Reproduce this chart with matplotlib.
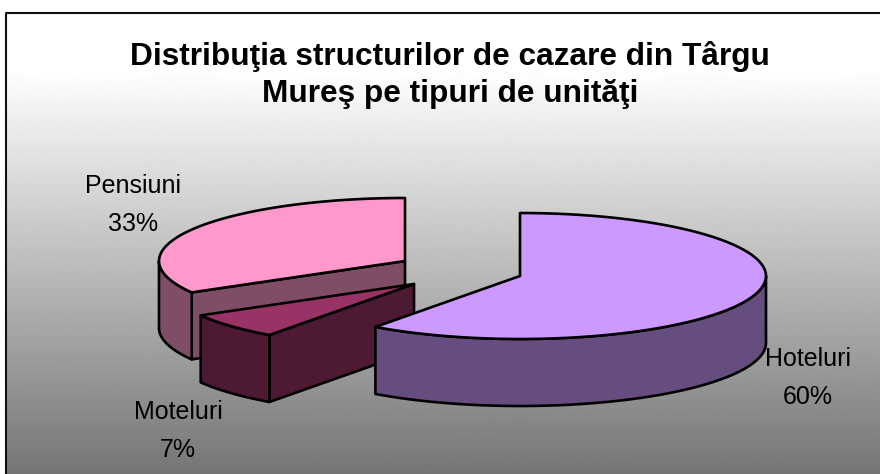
import matplotlib
matplotlib.use('Agg')
import matplotlib.pyplot as plt
from matplotlib.patches import Polygon
import numpy as np

plt.rcParams['font.family'] = ['Liberation Sans', 'DejaVu Sans']

title = 'Distribuţia structurilor de cazare din Târgu\nMureş pe tipuri de unităţi'
categories = ['Hoteluri', 'Moteluri', 'Pensiuni']
shares = [60, 6.7, 33.3]
top_colors = ['#cc99ff', '#993366', '#ff99cc']
side_colors = ['#664d80', '#4d1933', '#804d66']

# pie geometry, in pixels
centers = {'Hoteluri': (520, 276), 'Moteluri': (414, 284), 'Pensiuni': (405, 261)}
label_pos = {'Hoteluri': (808, 378), 'Moteluri': (178, 431), 'Pensiuni': (133, 205)}
RX, RY = 246, 63
DEPTH = 67
LW = 1.9


def rim(cx, cy, a0, a1, n=80):
    # angles clockwise from 12 o'clock, in degrees
    t = np.radians(np.linspace(a0, a1, n))
    return np.column_stack([cx + RX * np.sin(t), cy - RY * np.cos(t)])


def draw_slice(ax, name, a0, a1, top, side):
    cx, cy = centers[name]
    down = np.array([0, DEPTH])
    apex = np.array([cx, cy])

    # cut face that looks at the viewer (the one on the left of the front)
    for a in (a0, a1):
        s = np.sin(np.radians(a))
        c = np.cos(np.radians(a))
        edge = np.array([cx + RX * s, cy - RY * c])
        faces_front = (a == a0 and a0 > 180) or (a == a1 and a1 < 180)
        if faces_front:
            ax.add_patch(Polygon([apex, edge, edge + down, apex + down],
                                 fc=side, ec='black', lw=LW, joinstyle='round'))

    # outer wall, only the part on the front half
    w0, w1 = max(a0, 90), min(a1, 270)
    if w1 > w0:
        wall = rim(cx, cy, w0, w1)
        ax.add_patch(Polygon(np.vstack([wall, (wall + down)[::-1]]),
                             fc=side, ec='black', lw=LW, joinstyle='round'))

    pts = np.vstack([[apex], rim(cx, cy, a0, a1)])
    ax.add_patch(Polygon(pts, fc=top, ec='black', lw=LW, joinstyle='round'))


fig = plt.figure(figsize=(8.8, 4.74), dpi=100)
ax = fig.add_axes([0, 0, 1, 1])
ax.set_xlim(0, 880)
ax.set_ylim(474, 0)
ax.axis('off')

# background: white at the top, going to grey
ys = np.arange(13, 475)
grey = np.interp(ys, [13, 70, 474], [255, 255, 117]) / 255
ax.imshow(grey[:, None], cmap='gray', vmin=0, vmax=1, aspect='auto',
          extent=(6, 880, 474, 13), zorder=0)
ax.set_xlim(0, 880)
ax.set_ylim(474, 0)
ax.plot([6, 6, 880], [474, 13, 13], color='#111111', lw=1.5, zorder=1)

# slices start at 12 o'clock and go clockwise
ends = np.cumsum(shares) / np.sum(shares) * 360
starts = np.concatenate([[0], ends[:-1]])

for i in [2, 1, 0]:
    draw_slice(ax, categories[i], starts[i], ends[i], top_colors[i], side_colors[i])

for i, name in enumerate(categories):
    x, y = label_pos[name]
    ax.text(x, y, '%s\n%d%%' % (name, round(shares[i])), ha='center', va='center',
            fontsize=18, linespacing=1.75, color='black')

ax.text(450, 75, title, ha='center', va='center', fontsize=22.8, fontweight='bold',
        linespacing=1.3, color='black')

fig.savefig('out.png', dpi=100)
